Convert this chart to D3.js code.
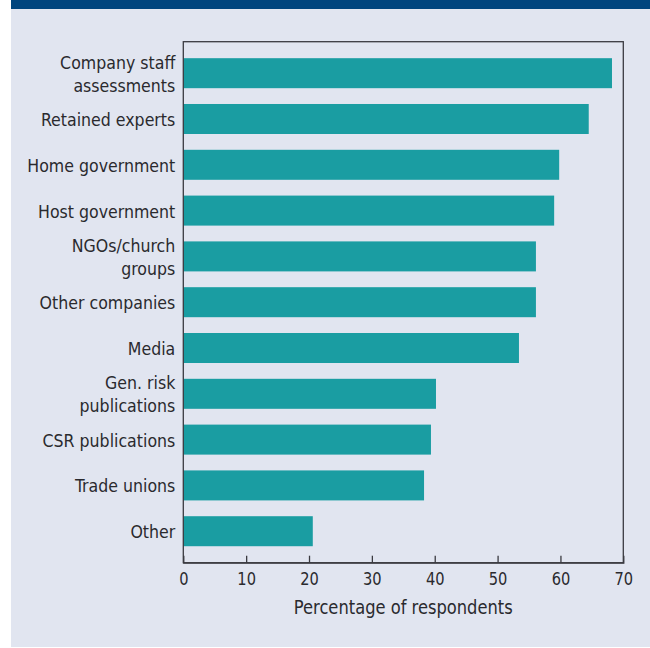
<!DOCTYPE html>
<html>
<head>
<meta charset="utf-8">
<script src="https://cdn.jsdelivr.net/npm/d3@7"></script>
<style>
  html, body { margin: 0; padding: 0; background: #ffffff; }
  svg { display: block; }
  text { font-family: "Liberation Sans Narrow", "DejaVu Sans Condensed", "Roboto Condensed", sans-serif; fill: #2a2a2e; }
</style>
</head>
<body>
<svg id="chart" width="650" height="648"></svg>
<script>
// Sources of information used, share of respondents (%)
const categories = [
  "Company staff\nassessments",
  "Retained experts",
  "Home government",
  "Host government",
  "NGOs/church\ngroups",
  "Other companies",
  "Media",
  "Gen. risk\npublications",
  "CSR publications",
  "Trade unions",
  "Other"
];
const values = [68.2, 64.5, 59.8, 59.0, 56.1, 56.1, 53.4, 40.2, 39.4, 38.3, 20.6];
const xTicks = [0, 10, 20, 30, 40, 50, 60, 70];
const xTitle = "Percentage of respondents";

const svg = d3.select("#chart");
const W = 650, H = 648;
const ink = "#2a2a2e";

// panel background and header strip
svg.append("rect").attr("x", 11).attr("y", 0).attr("width", W - 11).attr("height", H - 1).attr("fill", "#e1e5f0");
svg.append("rect").attr("x", 11).attr("y", 0).attr("width", W - 11).attr("height", 9).attr("fill", "#00457e");

const plot = { left: 183.3, right: 623.3, top: 41.7, bottom: 562.7 };

const x = d3.scaleLinear().domain([0, 70]).range([plot.left, plot.right]);
const y = d3.scaleBand().domain(categories).range([plot.top, plot.bottom])
  .paddingInner(0.345).paddingOuter(0.36);

// bars
svg.append("g").selectAll("rect")
  .data(categories)
  .join("rect")
  .attr("x", x(0))
  .attr("y", d => y(d))
  .attr("width", (d, i) => x(values[i]) - x(0))
  .attr("height", y.bandwidth())
  .attr("fill", "#1a9da2");

// frame around plot area
svg.append("rect")
  .attr("x", plot.left).attr("y", plot.top)
  .attr("width", plot.right - plot.left).attr("height", plot.bottom - plot.top)
  .attr("fill", "none").attr("stroke", "#3a3a40").attr("stroke-width", 1.3);

// bottom axis with inward ticks
const axis = d3.axisBottom(x).tickValues(xTicks).tickSize(-7).tickPadding(12).tickFormat(d3.format("d"));
const gx = svg.append("g").attr("transform", `translate(0,${plot.bottom})`).call(axis);
gx.select(".domain").attr("stroke", "#3a3a40").attr("stroke-width", 1.3);
gx.selectAll(".tick line").attr("stroke", "#3a3a40").attr("stroke-width", 1.3)
  .attr("display", d => (d === 0 || d === 70) ? "none" : null);
gx.selectAll(".tick text")
  .attr("font-size", 17.5).attr("fill", ink)
  .attr("font-family", "'Liberation Sans Narrow', 'DejaVu Sans Condensed', sans-serif")
  .attr("dy", null).attr("y", 0)
  .attr("transform", "translate(0,22.5) scale(0.93,1)");

// axis title
svg.append("text")
  .attr("transform", `translate(${(plot.left + plot.right) / 2},614) scale(0.955,1)`)
  .attr("text-anchor", "middle")
  .attr("font-size", 19)
  .text(xTitle);

// category labels (one or two lines)
const lineGap = 23;
const labels = svg.append("g").selectAll("text")
  .data(categories)
  .join("text")
  .attr("text-anchor", "end")
  .attr("font-size", 18.5)
  .attr("transform", d => `translate(${plot.left - 8},${y(d) + y.bandwidth() / 2}) scale(0.95,1)`);
labels.each(function (d) {
  const lines = d.split("\n");
  const t = d3.select(this);
  lines.forEach((ln, k) => {
    t.append("tspan")
      .attr("x", 0)
      .attr("y", 7 + (k - (lines.length - 1) / 2) * lineGap)
      .text(ln);
  });
});
</script>
</body>
</html>
